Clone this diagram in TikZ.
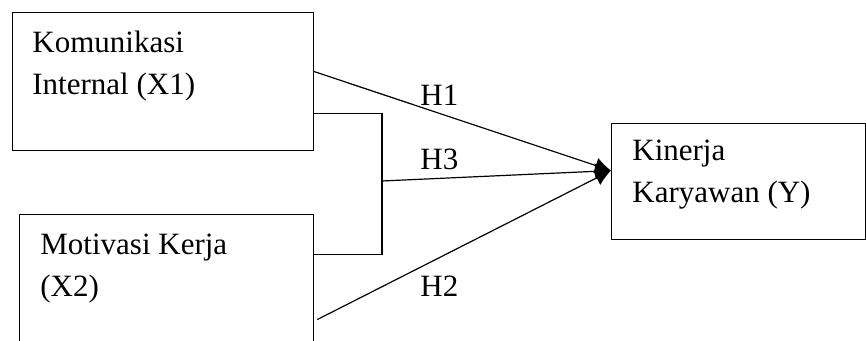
\documentclass[tikz,border=0pt]{standalone}
\usepackage{fontspec}
\setmainfont{Liberation Serif}
\usetikzlibrary{arrows.meta, positioning}

\begin{document}
\begin{tikzpicture}[
    x=0.5pt, y=-0.5pt,
    font=\fontsize{15.5}{21}\selectfont,
    varbox/.style={draw=black, line width=0.6pt, rectangle, inner sep=0pt, anchor=north west},
    vartext/.style={anchor=base west, align=left, inner sep=0pt},
    hyp/.style={anchor=base west, inner sep=0pt},
    link/.style={line width=0.6pt, draw=black},
    arrow/.style={link, -{Latex[length=8pt, width=8pt]}}
]
\clip (0,0) rectangle (866,341);

% Two independent variables on the left
\node[varbox, minimum width=150.5pt, minimum height=69pt] (x1) at (12,12) {};
\node[varbox, minimum width=147pt, minimum height=67.5pt] (x2) at (19,214) {};
\node[vartext] (x1t) at (32,95) {Komunikasi\\Internal (X1)};
\node[vartext] (x2t) at (40,297) {Motivasi Kerja\\(X2)};

% Dependent variable on the right
\node[varbox, minimum width=127pt, minimum height=58pt] (y) at (611,123) {};
\node[vartext] (yt) at (632,203) {Kinerja\\Karyawan (Y)};

% Joint effect bracket
\coordinate (j) at (382,181);
\coordinate (tip) at ([yshift=5.5pt]y.west);
\draw[link] ([yshift=-16pt]x1.east) -| (j) |- ([yshift=13.75pt]x2.east);

% Hypotheses
\draw[arrow] ([yshift=5pt]x1.east) -- (tip);
\draw[arrow] (j) -- (tip);
\draw[arrow] ([xshift=1.5pt, yshift=-18.75pt]x2.east) -- (tip);

\node[hyp] (h1) at (420,106) {H1};
\node[hyp] (h3) at (420,170) {H3};
\node[hyp] (h2) at (420,297) {H2};

\end{tikzpicture}
\end{document}
